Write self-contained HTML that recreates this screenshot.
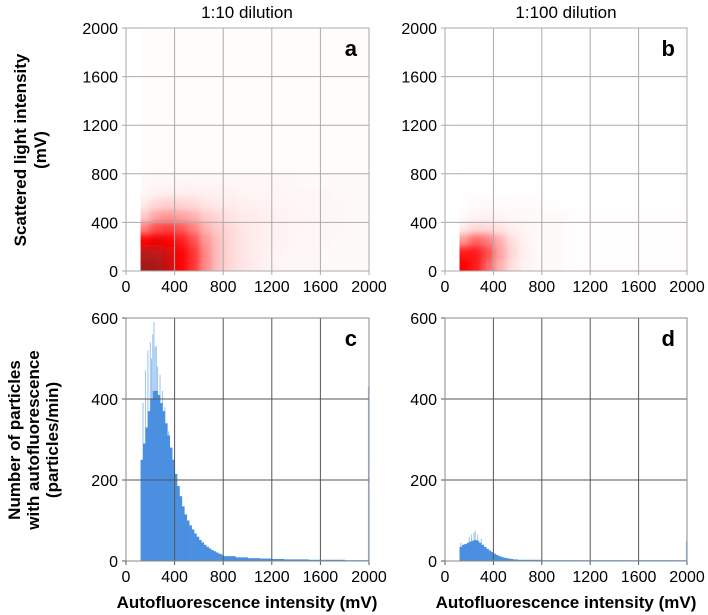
<!DOCTYPE html>
<html><head><meta charset="utf-8">
<style>
html,body{margin:0;padding:0;background:#fff;}
svg{display:block;font-family:"Liberation Sans",Arial,sans-serif;}
</style></head>
<body>
<svg id="chart" width="708" height="615" viewBox="0 0 708 615" xmlns="http://www.w3.org/2000/svg">
<defs>
<filter id="soft" x="-10%" y="-10%" width="120%" height="120%"><feGaussianBlur stdDeviation="3.5"/></filter>
</defs>
<text x="247" y="18" font-size="17" text-anchor="middle">1:10 dilution</text>
<text x="566" y="18" font-size="17" text-anchor="middle">1:100 dilution</text>
<g transform="translate(26,150) rotate(-90)">
<text x="0" y="0" font-size="17" font-weight="bold" text-anchor="middle">Scattered light intensity</text>
<text x="0" y="20" font-size="17" font-weight="bold" text-anchor="middle">(mV)</text>
</g>
<g transform="translate(20,440) rotate(-90)">
<text x="0" y="0" font-size="17" font-weight="bold" text-anchor="middle">Number of particles</text>
<text x="0" y="19" font-size="17" font-weight="bold" text-anchor="middle">with autofluorescence</text>
<text x="0" y="38" font-size="17" font-weight="bold" text-anchor="middle">(particles/min)</text>
</g>
<text x="247" y="608" font-size="17" font-weight="bold" text-anchor="middle">Autofluorescence intensity (mV)</text>
<text x="566" y="608" font-size="17" font-weight="bold" text-anchor="middle">Autofluorescence intensity (mV)</text>
</svg>
<script>
// ---- data ----
const xTicks = [0, 400, 800, 1200, 1600, 2000];
const yTicksScatter = [0, 400, 800, 1200, 1600, 2000];
const yTicksHist = [0, 200, 400, 600];
// scatter density grid: rows = y bins of 100 mV (0..800), cols = x bins of 100 mV (0..2000)
const densityA = [
 [0,2,2,1.6,1,.8,.45,.25,.15,.1,.07,.05,.04,.03,.03,.03,.02,.02,.02,.02],
 [0,1.8,1.7,1.5,1,.8,.45,.25,.15,.1,.07,.05,.04,.03,.03,.03,.02,.02,.02,.02],
 [0,1,1.2,1,.9,.7,.4,.25,.15,.1,.07,.06,.05,.04,.03,.03,.03,.02,.02,.02],
 [0,.5,.7,.75,.65,.5,.3,.2,.14,.1,.07,.06,.05,.04,.04,.03,.03,.03,.02,.02],
 [0,.2,.35,.4,.35,.3,.2,.15,.1,.08,.07,.06,.05,.04,.04,.03,.03,.03,.02,.02],
 [0,.08,.15,.18,.16,.14,.1,.08,.07,.06,.05,.05,.04,.04,.03,.03,.03,.03,.02,.02],
 [0,.03,.05,.06,.06,.06,.05,.05,.05,.04,.04,.04,.04,.03,.03,.03,.03,.02,.02,.02],
 [0,.02,.03,.03,.03,.03,.03,.03,.03,.03,.03,.03,.03,.03,.02,.02,.02,.02,.02,.02]
];
const backgroundA = 0.012;
const densityB = [
 [0,1,.9,.6,.3,.12,.05,.03,.02,.02,.01,.01,.01,.01,.01,.01,.01,.01,.01,.01],
 [0,.9,.9,.7,.35,.15,.06,.03,.02,.02,.01,.01,.01,.01,.01,.01,.01,.01,.01,.01],
 [0,.4,.6,.5,.3,.12,.05,.03,.02,.02,.01,.01,.01,.01,.01,.01,.01,.01,.01,.01],
 [0,.08,.15,.15,.1,.06,.04,.03,.02,.02,.01,.01,.01,.01,.01,.01,.01,.01,.01,.01],
 [0,.02,.04,.05,.04,.03,.03,.02,.02,.02,.01,.01,.01,.01,.01,.01,.01,.01,.01,.01],
 [0,.01,.02,.02,.02,.02,.02,.02,.01,.01,.01,.01,.01,.01,.01,.01,.01,.01,.01,.01]
];
const backgroundB = 0.005;
// histogram bins
const binStartC = [120,140,160,180,200,220,240,260,280,300,320,340,360,380,400,420,440,460,480,500,520,540,560,580,600,620,640,660,680,700,720,740,760,780,800,900,1000,1100,1200,1300,1400,1500,1600,1700,1800,1900];
const countsC = [250,290,330,370,400,420,420,410,390,370,340,310,280,250,215,185,160,135,115,100,88,78,68,60,52,46,40,35,31,27,24,21,18,16,12,9,7,6,5,4,4,3,3,3,2,2];
const spikeXC = [140,160,180,200,210,220,230,240,250,260,280,300,320,350,1995];
const spikeHC = [390,470,520,540,500,560,590,530,530,480,460,420,380,320,430];
const binStartD = [120,140,160,180,200,220,240,260,280,300,320,340,360,380,400,420,440,460,480,500,520,540,560,580,600,700,800,900,1000,1200,1400,1600,1800];
const countsD = [35,40,42,45,48,50,52,50,45,40,35,30,26,22,18,15,12,10,8,7,6,5,4,4,3,3,2,2,2,2,2,2,2];
const spikeXD = [130,200,220,240,250,270,300,1995];
const spikeHD = [45,60,65,70,75,65,55,50];

const NS = "http://www.w3.org/2000/svg";
const svg = document.getElementById('chart');
const defs = svg.querySelector('defs');
function mk(tag, attrs, parent){
  const e = document.createElementNS(NS, tag);
  for (const k in attrs) e.setAttribute(k, attrs[k]);
  (parent||svg).appendChild(e); return e;
}
function makeScale(d0,d1,r0,r1){ return v => r0 + (v-d0)/(d1-d0)*(r1-r0); }

function axes(p, yTicks, yMax, gridColor, letter, name){
  const x = makeScale(0,2000,p.x0,p.x1), y = makeScale(0,yMax,p.y1,p.y0);
  const g = mk('g',{});
  
  
  xTicks.forEach(t=>{
    const l = mk('line',{x1:x(t),x2:x(t),y1:p.y0,y2:p.y1+4,stroke:gridColor,'stroke-width':1},g);
    
    
    const tx = mk('text',{x:x(t),y:p.y1+21,'font-size':16,'text-anchor':'middle'},g);
    tx.textContent = t;
    
    
  });
  yTicks.forEach(t=>{
    const l = mk('line',{x1:p.x0-4,x2:p.x1,y1:y(t),y2:y(t),stroke:gridColor,'stroke-width':1},g);
    
    
    const tx = mk('text',{x:p.x0-8,y:y(t)+6,'font-size':16,'text-anchor':'end'},g);
    tx.textContent = t;
    
    
  });
  const lt = mk('text',{x:p.x1-12,y:p.y0+28,'font-size':22,'font-weight':'bold','text-anchor':'end'});
  lt.textContent = letter;
  
  
  return {x,y,g};
}

function scatterPanel(p, grid, bg, letter){
  const x = makeScale(0,2000,p.x0,p.x1), y = makeScale(0,2000,p.y1,p.y0);
  const cp = mk('clipPath',{id:'clip-'+letter},defs);
  mk('rect',{x:x(120),y:p.y0,width:x(2000)-x(120),height:p.y1-p.y0},cp);
  const outer = mk('g',{'clip-path':'url(#clip-'+letter+')'});
  
  
  const bgr = mk('rect',{x:x(120),y:y(2000),width:x(2000)-x(120),height:y(0)-y(2000),fill:'rgb(255,0,0)','fill-opacity':bg},outer);
  
  
  const g = mk('g',{filter:'url(#soft)'},outer);
  
  
  grid.forEach((row,ri)=>{
    row.forEach((d,ci)=>{
      if (d<=0) return;
      let x0 = ci*100, x1 = ci*100+100;
      if (x0<120) x0 = 120;
      if (x1<=x0) return;
      let col, op;
      if (d<=1){ col='rgb(255,0,0)'; op=d; }
      else { const t=Math.min(1,d-1); col='rgb('+Math.round(255-t*90)+','+Math.round(t*25)+','+Math.round(t*25)+')'; op=1; }
      // extend edge cells outward so blur does not fade at the data boundary
      let ex0 = x(x0), ex1 = x(x1), ey0 = y(ri*100+100), ey1 = y(ri*100);
      if (x0===120) ex0 -= 10;
      if (ri===0) ey1 += 10;
      const r = mk('rect',{x:ex0,y:ey0,width:ex1-ex0+0.5,height:ey1-ey0+0.5,fill:col,'fill-opacity':Math.max(0,op-bg)},g);
      
      
    });
  });
}

function histPanel(p, starts, counts, sx, sh, letter){
  const g = mk('g',{});
  
  
  const x = makeScale(0,2000,p.x0,p.x1), y = makeScale(0,600,p.y1,p.y0);
  sx.forEach((v,i)=>{
    const l = mk('line',{x1:x(v),x2:x(v),y1:y(0),y2:y(sh[i]),stroke:'#9cc4ee','stroke-width':1},g);
    
    
  });
  starts.forEach((s,i)=>{
    const e = i+1<starts.length ? starts[i+1] : 2000;
    const r = mk('rect',{x:x(s),y:y(counts[i]),width:x(e)-x(s)+0.3,height:y(0)-y(counts[i]),fill:'#4a8fe0'},g);
    
    
  });
}

const pA = {x0:126,x1:369,y0:28,y1:271};
const pB = {x0:445,x1:687,y0:28,y1:271};
const pC = {x0:126,x1:369,y0:318,y1:561};
const pD = {x0:445,x1:687,y0:318,y1:561};

scatterPanel(pA, densityA, backgroundA, 'a');
scatterPanel(pB, densityB, backgroundB, 'b');
histPanel(pC, binStartC, countsC, spikeXC, spikeHC, 'c');
histPanel(pD, binStartD, countsD, spikeXD, spikeHD, 'd');
axes(pA, yTicksScatter, 2000, '#aaaaaa', 'a', 'panel-a');
axes(pB, yTicksScatter, 2000, '#aaaaaa', 'b', 'panel-b');
axes(pC, yTicksHist, 600, '#555555', 'c', 'panel-c');
axes(pD, yTicksHist, 600, '#555555', 'd', 'panel-d');
[pA,pB].forEach(p=>{
  const r = mk('rect',{x:p.x0,y:p.y0,width:p.x1-p.x0,height:p.y1-p.y0,fill:'none',stroke:'#aaaaaa'});
  
  
});
[pC,pD].forEach(p=>{
  const r = mk('rect',{x:p.x0,y:p.y0,width:p.x1-p.x0,height:p.y1-p.y0,fill:'none',stroke:'#888888'});
  
  
});
</script>
</body></html>
